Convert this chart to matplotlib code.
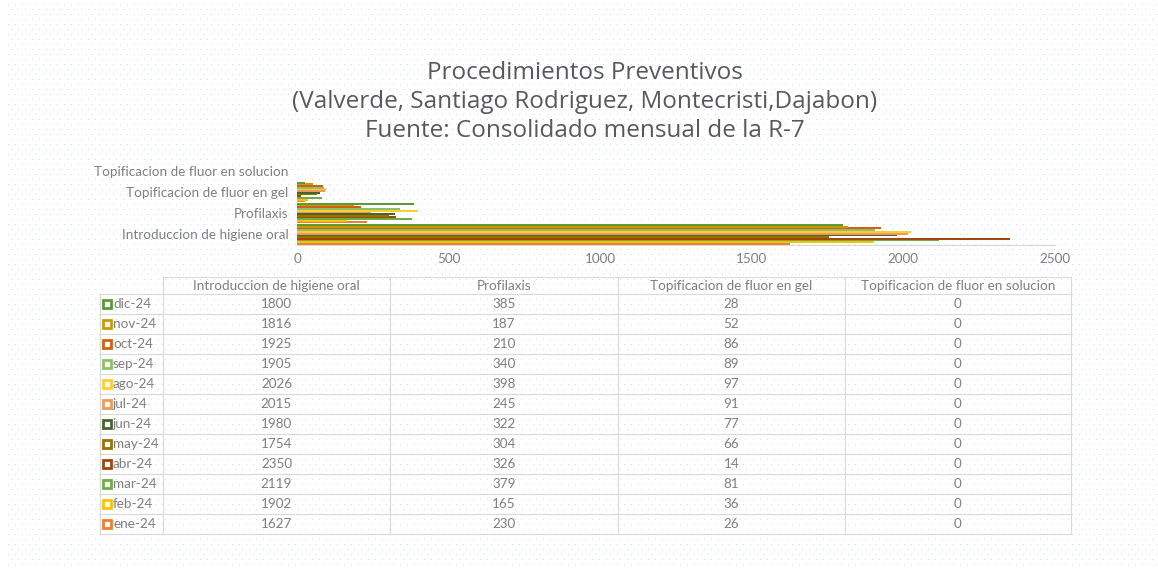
import numpy as np
import matplotlib
matplotlib.use("Agg")
from matplotlib import pyplot as plt

# data
categories = [
    "Introduccion de higiene oral",
    "Profilaxis",
    "Topificacion de fluor en gel",
    "Topificacion de fluor en solucion",
]
months = ["ene-24", "feb-24", "mar-24", "abr-24", "may-24", "jun-24",
          "jul-24", "ago-24", "sep-24", "oct-24", "nov-24", "dic-24"]
higiene_oral = [1627, 1902, 2119, 2350, 1754, 1980, 2015, 2026, 1905, 1925, 1816, 1800]
profilaxis = [230, 165, 379, 326, 304, 322, 245, 398, 340, 210, 187, 385]
fluor_gel = [26, 36, 81, 14, 66, 77, 91, 97, 89, 86, 52, 28]
fluor_solucion = [0] * 12
month_colors = ["#ED7D31", "#FFC000", "#70AD47", "#9E480E", "#997300", "#43682B",
                "#F1975A", "#FFCD33", "#8CC168", "#D26012", "#CC9A06", "#5A9B36"]
x_ticks = [0, 500, 1000, 1500, 2000, 2500]
title_lines = [
    "Procedimientos Preventivos",
    "(Valverde, Santiago Rodriguez, Montecristi,Dajabon)",
    "Fuente: Consolidado mensual de la R-7",
]

W, H = 1158, 569
fig = plt.figure(figsize=(W / 100, H / 100), dpi=100)
fig.patch.set_facecolor("white")

# dotted background like the Excel pattern fill
bg = np.ones((H, W, 3))
dot = np.array([0.80, 0.87, 0.96])
for yy in range(4, H, 10):
    bg[H - 1 - yy, 8::7] = dot
for yy in range(9, H, 10):
    bg[H - 1 - yy, 11::7] = dot
fig.figimage(bg, 0, 0, zorder=-1)

gray = "#7f7f7f"
title_font = "Open Sans"
small_font = "Lato"
small_size = 9.7

for k, line in enumerate(title_lines):
    fig.text(585 / W, 1 - (73 + 29 * k) / H, line, ha="center", va="center",
             fontsize=17.5, color="#595959", family=title_font)

# bar chart
ax = fig.add_axes([297 / W, 1 - 245 / H, (1055 - 297) / W, (245 - 160) / H])
ax.set_facecolor("none")
series = np.array([higiene_oral, profilaxis, fluor_gel, fluor_solucion]).T
n = len(months)
h = 0.96 / n
ypos = np.arange(len(categories))
for i, m in enumerate(months):
    ax.barh(ypos + (i - (n - 1) / 2) * h, series[i], height=h * 1.15,
            color=month_colors[i], linewidth=0)
ax.set_xlim(0, 2500)
ax.set_ylim(-0.5, len(categories) - 0.5)
ax.set_xticks(x_ticks)
ax.set_xticklabels([str(t) for t in x_ticks], family=small_font, fontsize=small_size,
                   color=gray)
ax.set_yticks(ypos)
ax.set_yticklabels(categories, family=small_font, fontsize=small_size, color=gray)
ax.tick_params(length=0, pad=6)
for s in ["top", "right", "left"]:
    ax.spines[s].set_visible(False)
ax.spines["bottom"].set_color("#d9d9d9")

# data table, drawn on an overlay axes in pixel units
tx = fig.add_axes([0, 0, 1, 1])
tx.set_xlim(0, W)
tx.set_ylim(H, 0)
tx.axis("off")
tx.set_facecolor("none")
col_edges = [100, 163, 390, 618, 845, 1071]
head_top, row_top, row_h = 277, 294, 20
line_c = "#d9d9d9"
n_rows = len(months)
bottom = row_top + n_rows * row_h
tx.plot([col_edges[1], col_edges[-1]], [head_top, head_top], color=line_c, lw=0.8)
for k in range(n_rows + 1):
    yy = row_top + k * row_h
    tx.plot([col_edges[0], col_edges[-1]], [yy, yy], color=line_c, lw=0.8)
tx.plot([col_edges[0], col_edges[0]], [row_top, bottom], color=line_c, lw=0.8)
for xe in col_edges[1:]:
    tx.plot([xe, xe], [head_top, bottom], color=line_c, lw=0.8)

for j, cat in enumerate(categories):
    xc = (col_edges[j + 1] + col_edges[j + 2]) / 2
    tx.text(xc, (head_top + row_top) / 2, cat, ha="center", va="center",
            fontsize=small_size, color=gray, family=small_font)

# rows listed from dic-24 down to ene-24
for r, i in enumerate(range(n - 1, -1, -1)):
    yc = row_top + r * row_h + row_h / 2
    tx.plot(106.5, yc, marker="s", ms=5.5, mfc="white", mec=month_colors[i], mew=2.0)
    tx.text(113, yc, months[i], ha="left", va="center", fontsize=small_size, color=gray,
            family=small_font)
    for j in range(len(categories)):
        xc = (col_edges[j + 1] + col_edges[j + 2]) / 2
        tx.text(xc, yc, str(series[i][j]), ha="center", va="center", fontsize=small_size,
                color=gray, family=small_font)

fig.savefig("out.png", dpi=100)
